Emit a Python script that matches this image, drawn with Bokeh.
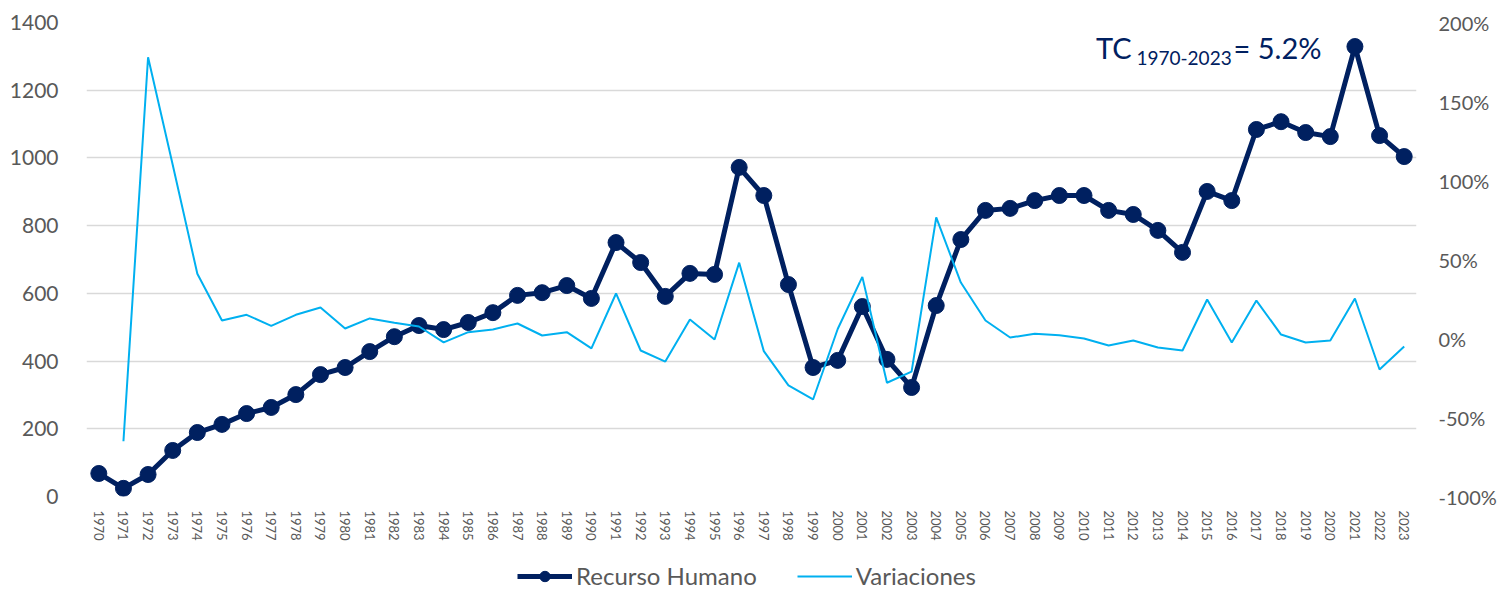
from bokeh.plotting import figure
from bokeh.layouts import column
from bokeh.models import (FactorRange, Range1d, LinearAxis, FixedTicker, NumeralTickFormatter,
                          Legend, LegendItem, Label)
from bokeh.embed import file_html
from bokeh.resources import INLINE

years = [str(y) for y in range(1970, 2024)]
recurso = [68, 24, 65, 136, 189, 213, 245, 263, 301, 360, 381, 428, 472, 505, 493, 514, 543, 594,
           602, 623, 585, 750, 691, 591, 659, 656, 972, 889, 626, 381, 402, 561, 405, 322, 564,
           759, 845, 851, 874, 889, 889, 845, 833, 786, 721, 901, 874, 1084, 1107, 1075, 1063,
           1329, 1066, 1004]
variaciones = [float("nan"), -0.65, 1.78, 1.10, 0.41, 0.114, 0.15, 0.08, 0.15, 0.196, 0.063, 0.127,
               0.10, 0.076, -0.025, 0.04, 0.057, 0.095, 0.019, 0.04, -0.063, 0.285, -0.076,
               -0.146, 0.12, -0.006, 0.48, -0.08, -0.297, -0.386, 0.06, 0.39, -0.28, -0.21, 0.766,
               0.354, 0.114, 0.006, 0.03, 0.02, 0.0, -0.044, -0.013, -0.057, -0.076, 0.247,
               -0.025, 0.24, 0.025, -0.025, -0.013, 0.253, -0.196, -0.05]
left_ticks = [0, 200, 400, 600, 800, 1000, 1200, 1400]
right_ticks = [-1.0, -0.5, 0.0, 0.5, 1.0, 1.5, 2.0]
series_names = ["Recurso Humano", "Variaciones"]

FONT = "Lato"
GRAY = "#595959"
NAVY = "#002060"
LIGHT = "#00B0F0"

p = figure(x_range=FactorRange(*years), y_range=Range1d(0, 1400),
           width=1500, height=552, output_backend="svg", toolbar_location=None,
           min_border_left=86, min_border_right=84, min_border_top=22, min_border_bottom=56)
p.outline_line_color = None
p.extra_y_ranges = {"pct": Range1d(-1.0, 2.0)}
p.x_range.range_padding = 0

p.xgrid.grid_line_color = None
p.ygrid.grid_line_color = "#d9d9d9"
p.ygrid.grid_line_width = 1.5
p.ygrid.ticker = FixedTicker(ticks=left_ticks)

p.yaxis.ticker = FixedTicker(ticks=left_ticks)
for ax in [p.yaxis[0], p.xaxis[0]]:
    ax.axis_line_color = None
    ax.major_tick_line_color = None
    ax.minor_tick_line_color = None
    ax.major_label_text_font = FONT
    ax.major_label_text_color = GRAY
p.yaxis[0].major_label_text_font_size = "21px"
p.yaxis[0].major_label_standoff = 22
xa = p.xaxis[0]
xa.major_label_text_font_size = "13px"
xa.major_label_orientation = "vertical"
xa.major_label_standoff = 8

rax = LinearAxis(y_range_name="pct", ticker=FixedTicker(ticks=right_ticks),
                 formatter=NumeralTickFormatter(format="0%"))
rax.axis_line_color = None
rax.major_tick_line_color = None
rax.minor_tick_line_color = None
rax.major_label_text_font = FONT
rax.major_label_text_color = GRAY
rax.major_label_text_font_size = "20px"
rax.major_label_standoff = 16
p.add_layout(rax, "right")

p.line(years, recurso, line_color=NAVY, line_width=5)
p.scatter(years, recurso, size=16, fill_color=NAVY, line_color=NAVY)
p.line(years, variaciones, line_color=LIGHT, line_width=2, y_range_name="pct")

p.add_layout(Label(x=42.43, y=1326, text="TC", text_font=FONT, text_font_size="29px",
                   text_color=NAVY, text_baseline="alphabetic", text_align="right"))
p.add_layout(Label(x=42.63, y=1294, text="1970-2023", text_font=FONT, text_font_size="19px",
                   text_color=NAVY, text_baseline="alphabetic"))
p.add_layout(Label(x=46.57, y=1326, text="= 5.2%", text_font=FONT, text_font_size="29px",
                   text_color=NAVY, text_baseline="alphabetic"))

# legend strip
lg = figure(width=1500, height=38, x_range=Range1d(0, 1), y_range=Range1d(0, 1),
            output_backend="svg", toolbar_location=None,
            x_axis_location=None, y_axis_location=None,
            min_border_left=0, min_border_right=0, min_border_top=0, min_border_bottom=0)
lg.outline_line_color = None
lg.grid.visible = False
ll1 = lg.line([-5, -4], [-5, -4], line_color=NAVY, line_width=5)
ls1 = lg.scatter([-5], [-5], size=16, fill_color=NAVY, line_color=NAVY)
ll2 = lg.line([-5, -4], [-5, -4], line_color=LIGHT, line_width=2)
legend = Legend(items=[LegendItem(label=series_names[0], renderers=[ll1, ls1]),
                       LegendItem(label=series_names[1], renderers=[ll2])],
                orientation="horizontal", location=(431, 0))
legend.label_text_font = FONT
legend.label_text_font_size = "24px"
legend.label_text_color = GRAY
legend.glyph_width = 55
legend.glyph_height = 26
legend.label_height = 26
legend.label_standoff = 4
legend.spacing = 40
legend.padding = 0
legend.margin = 0
legend.border_line_color = None
legend.background_fill_alpha = 0
lg.add_layout(legend, "center")

layout = column(p, lg, spacing=0)
open("out.html", "w").write(file_html(layout, INLINE))
